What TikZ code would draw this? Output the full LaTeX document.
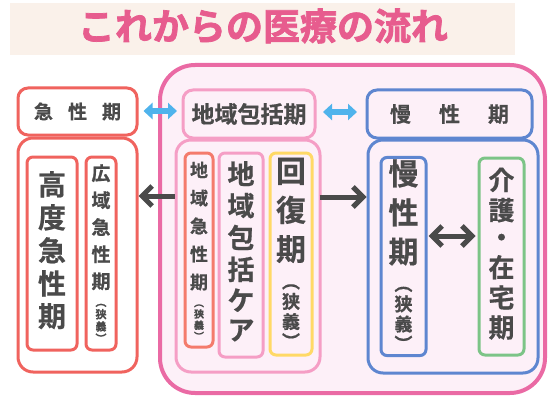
\documentclass[tikz,border=0pt]{standalone}
\usepackage{fontspec}
\newfontfamily\jpb{Noto Sans CJK JP}[UprightFont=* Bold, FakeBold=0.6]
\newfontfamily\jptitle{Noto Sans CJK JP}[UprightFont=* Bold, FakeBold=2]
\usetikzlibrary{arrows.meta}
\definecolor{banner}{HTML}{FAF1EA}
\definecolor{titlepink}{HTML}{E75C8E}
\definecolor{bigpink}{HTML}{EA6AA4}
\definecolor{bgpink}{HTML}{FDF0F8}
\definecolor{kyured}{HTML}{F0635E}
\definecolor{chiikired}{HTML}{F47B6C}
\definecolor{chiikipink}{HTML}{F59EC5}
\definecolor{kaiyellow}{HTML}{FFD966}
\definecolor{manblue}{HTML}{5E86D0}
\definecolor{kaigreen}{HTML}{7CC487}
\definecolor{arrowblue}{HTML}{4FB3EC}
\definecolor{txtgray}{HTML}{4A4A4A}
% vertical text: size, pitch, lines
\newcommand{\tate}[3]{{\fontsize{#1}{#2}\selectfont\begin{tabular}{@{}c@{}}#3\end{tabular}}}
\newcommand{\yoko}[2]{{\fontsize{#1}{#1}\selectfont #2}}

\begin{document}
\begin{tikzpicture}[x=1pt,y=-1pt,
		box/.style={draw, line width=3pt, rounded corners=6pt, inner sep=0pt, align=center, text=txtgray, font=\jpb},
		headbox/.style={box, rounded corners=10pt},
		outerbox/.style={box, rounded corners=15pt},
		grayarrow/.style={draw=txtgray, line width=5pt, -{Straight Barb[length=10pt,width=20pt]}},
		bluearrow/.style={draw=arrowblue, line width=6pt, {Triangle[length=9pt,width=16pt]}-{Triangle[length=9pt,width=16pt]}}]
	\useasboundingbox (0,0) rectangle (560,420);
	% title
	\fill[banner] (10,3) rectangle (515,55);
	\node[text=titlepink, font=\jptitle\fontsize{37}{37}\selectfont] (title) at (263,26) {これからの医療の流れ};
	\node[draw=bigpink, fill=bgpink, line width=4pt, rounded corners=35pt, minimum width=385pt, minimum height=328pt] (bigframe) at (352.5,229) {};

	% acute
	\node[headbox, draw=kyured, fill=white, minimum width=119pt, minimum height=47pt] (kyuhead) at (77.5,111.5) {\yoko{19}{急\hspace{15pt}性\hspace{15pt}期}};
	\node[outerbox, draw=kyured, fill=white, minimum width=119pt, minimum height=234pt] (kyuout) at (77.5,255) {};
	\node[box, draw=kyured, minimum width=50pt, minimum height=193pt] (kodo) at (52,253.5) {\tate{28}{30.5}{高\\度\\急\\性\\期}};
	\node[box, draw=kyured, minimum width=30pt, minimum height=193pt] (koiki) at (101,253.5) {\tate{19}{27}{広\\域\\急\\性\\期}\\[2pt]\tate{11}{9.5}{︵\\狭\\義\\︶}};

	% community
	\node[headbox, draw=chiikipink, fill=bgpink, minimum width=132pt, minimum height=48pt] (chihead) at (249,114) {\yoko{23}{地域包括期}};
	\node[outerbox, draw=chiikipink, minimum width=144pt, minimum height=232pt] (chiout) at (248,256) {};
	\node[box, draw=chiikired, minimum width=28pt, minimum height=194pt] (chikyu) at (199,250) {\tate{18}{28}{地\\域\\急\\性\\期}\\[2pt]\tate{10}{9}{︵\\狭\\義\\︶}};
	\node[box, draw=chiikipink, minimum width=44pt, minimum height=204pt] (chicare) at (241,255) {\tate{27}{29.5}{地\\域\\包\\括\\ケ\\ア}};
	\node[box, draw=kaiyellow, minimum width=42pt, minimum height=202pt] (kaifuku) at (291,254) {\tate{30}{39}{回\\復\\期}\\[4pt]\tate{18}{16}{︵\\狭\\義\\︶}};

	% chronic
	\node[headbox, draw=manblue, fill=bgpink, minimum width=165pt, minimum height=48pt] (manhead) at (449.5,114) {\yoko{21}{慢\hspace{28pt}性\hspace{28pt}期}};
	\node[outerbox, draw=manblue, minimum width=170pt, minimum height=233pt] (manout) at (453,256.5) {};
	\node[box, draw=manblue, minimum width=45pt, minimum height=197pt] (manin) at (403.5,256.5) {\tate{30}{39}{慢\\性\\期}\\[4pt]\tate{18}{16}{︵\\狭\\義\\︶}};
	\node[box, draw=kaigreen, minimum width=45pt, minimum height=197pt] (kaigo) at (501.5,256.5) {\tate{26}{27}{介\\護\\・\\在\\宅\\期}};

	% arrows
	\draw[bluearrow, shorten <=5pt, shorten >=4.5pt] (kyuhead.east |- 0,111) -- (chihead.west |- 0,111);
	\draw[bluearrow, shorten <=6.5pt, shorten >=8.5pt] (chihead.east |- 0,112) -- (manhead.west |- 0,112);
	\draw[grayarrow] (chiout.west |- 0,196) -- (kyuout.east |- 0,196);
	\draw[grayarrow, shorten <=6pt] (kaifuku.east |- 0,197) -- (manout.west |- 0,197);
	\draw[grayarrow, {Straight Barb[length=10pt,width=20pt]}-{Straight Barb[length=10pt,width=20pt]}, shorten <=1pt, shorten >=2pt] (manin.east |- 0,236) -- (kaigo.west |- 0,236);
\end{tikzpicture}
\end{document}
